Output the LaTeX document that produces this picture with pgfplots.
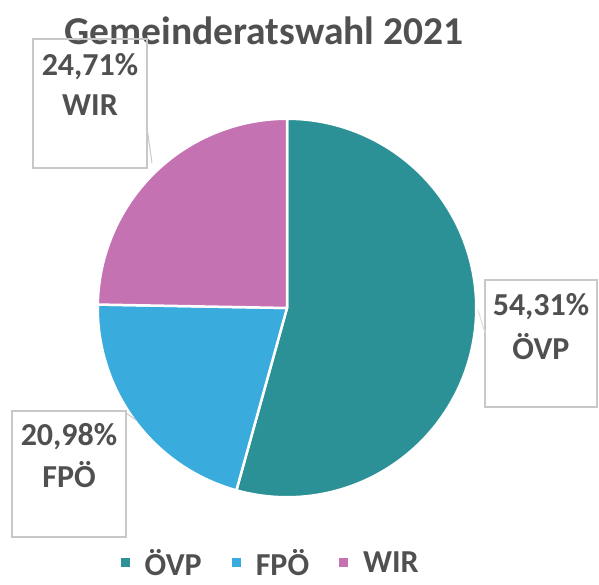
\documentclass[border=0pt]{standalone}
\usepackage{pgfplots}
\pgfplotsset{compat=1.18}
\usepackage{fontspec}
\setmainfont{Carlito}
\definecolor{ovp}{HTML}{2B9196}
\definecolor{fpo}{HTML}{3AABDD}
\definecolor{wir}{HTML}{C472B2}
\definecolor{txt}{HTML}{505050}
\definecolor{boxc}{HTML}{C8C8C8}
% shares in percent
\def\pOVP{54.31}
\def\pFPO{20.98}
\def\pWIR{24.71}
\begin{document}
\begin{tikzpicture}[x=1pt,y=1pt]
\path[use as bounding box] (-287,-277) rectangle (312,308);
\pgfmathsetmacro\aA{90}
\pgfmathsetmacro\aB{\aA-3.6*\pOVP}
\pgfmathsetmacro\aC{\aB-3.6*\pFPO}
\pgfmathsetmacro\aD{\aC-3.6*\pWIR}
\begin{axis}[
  at={(0,0)}, anchor=center,
  scale only axis, width=378.5pt, height=378.5pt,
  xmin=-1, xmax=1, ymin=-1, ymax=1,
  hide axis, clip=false,
  legend columns=3,
  legend image code/.code={\fill[#1,draw=none] (0pt,-4.5pt) rectangle (9pt,4.5pt); \path[draw=none,fill=none] (0pt,0pt) -- (22pt,0pt);},
  legend style={draw=none, fill=none, at={(0.457,-0.173)}, anchor=center,
    font=\fontsize{32}{32}\selectfont\bfseries\color{txt},
    /tikz/every even column/.append style={column sep=28pt},
    nodes={inner sep=2pt}},
]
\addplot[fill=ovp, draw=white, line width=2.5pt, line join=round, domain=\aB:\aA, samples=120, variable=\t] ({cos(\t)},{sin(\t)}) -- (axis cs:0,0) -- cycle;
\addlegendentry{ÖVP}
\addplot[fill=fpo, draw=white, line width=2.5pt, line join=round, domain=\aC:\aB, samples=60, variable=\t] ({cos(\t)},{sin(\t)}) -- (axis cs:0,0) -- cycle;
\addlegendentry{FPÖ}
\addplot[fill=wir, draw=white, line width=2.5pt, line join=round, domain=\aD:\aC, samples=60, variable=\t] ({cos(\t)},{sin(\t)}) -- (axis cs:0,0) -- cycle;
\addlegendentry{WIR}
\end{axis}
% title
\node[text=txt, font=\fontsize{39.5}{39.5}\selectfont\bfseries] at (-23,277) {Gemeinderatswahl 2021};
% data label boxes
\draw[boxc, line width=1.2pt] (-254,269) rectangle (-140,140);
\draw[boxc, line width=1.2pt] (198,28) rectangle (310,-99);
\draw[boxc, line width=1.2pt] (-275,-103) rectangle (-161,-229);
% leader lines
\draw[boxc, line width=1pt] (-140,180) -- (-135,145);
\draw[boxc, line width=1pt] (-161,-105) -- (-151,-112);
\draw[boxc!60, line width=1pt] (198,-25) -- (191,-2);
\begin{scope}[every node/.style={text=txt, font=\fontsize{32}{32}\selectfont\bfseries}]
\node at (-197,241) {24,71\%};
\node at (-197,203) {WIR};
\node at (254,1) {54,31\%};
\node at (254,-39) {ÖVP};
\node at (-218,-129) {20,98\%};
\node at (-218,-167) {FPÖ};
\end{scope}
\end{tikzpicture}
\end{document}
